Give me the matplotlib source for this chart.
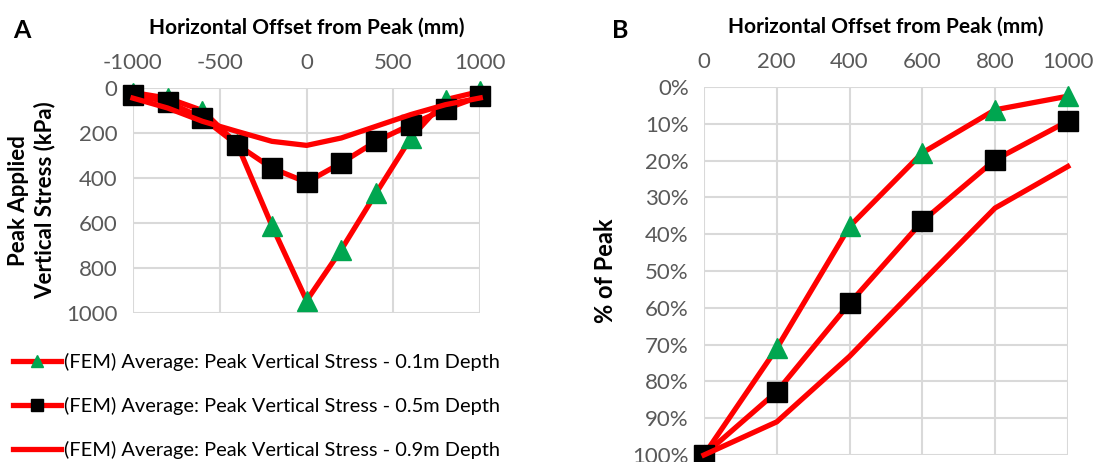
import numpy as np
import matplotlib.pyplot as plt
from matplotlib.lines import Line2D

plt.rcParams['font.family'] = ['Lato', 'DejaVu Sans']
plt.rcParams['axes.unicode_minus'] = False

# panel A: peak vertical stress (kPa) vs horizontal offset (mm)
offset_a = [-1000, -800, -600, -400, -200, 0, 200, 400, 600, 800, 1000]
stress_01 = [20, 45, 100, 250, 612, 945, 718, 467, 222, 52, 15]
stress_05 = [30, 62, 133, 252, 356, 419, 333, 237, 163, 93, 37]
stress_09 = [45, 89, 148, 193, 237, 255, 222, 170, 118, 74, 44]

# panel B: % of peak vs horizontal offset (mm)
offset_b = [0, 200, 400, 600, 800, 1000]
pct_01 = [100, 71.0, 37.9, 17.9, 6.2, 2.5]
pct_05 = [100, 82.8, 58.8, 36.5, 19.8, 9.3]
pct_09 = [100, 91.0, 73.2, 52.9, 32.9, 21.6]

labels = ['(FEM) Average: Peak Vertical Stress - 0.1m Depth',
          '(FEM) Average: Peak Vertical Stress - 0.5m Depth',
          '(FEM) Average: Peak Vertical Stress - 0.9m Depth']

RED = '#ff0000'
GREEN = '#00a650'
GRID = '#d9d9d9'
TICK = '#595959'
FS = 15

styles = [dict(marker='^', markersize=14, markerfacecolor=GREEN, markeredgecolor=GREEN),
          dict(marker='s', markersize=14, markerfacecolor='black', markeredgecolor='black'),
          dict(marker=None)]

fig = plt.figure(figsize=(10.99, 4.62), dpi=100)
ax_a = fig.add_axes([0.121, 0.3225, 0.316, 0.487])
ax_b = fig.add_axes([0.6406, 0.0152, 0.331, 0.7965])


def style_axes(ax):
    for s in ax.spines.values():
        s.set_visible(False)
    ax.grid(True, color=GRID, lw=1.5)
    ax.set_axisbelow(True)
    ax.xaxis.tick_top()
    ax.xaxis.set_label_position('top')
    ax.tick_params(length=0, labelsize=16, labelcolor=TICK, pad=11)
    ax.set_xlabel('Horizontal Offset from Peak (mm)', fontsize=FS, fontweight='bold', labelpad=14)


for i, ys in enumerate([stress_01, stress_05, stress_09]):
    ax_a.plot(offset_a, ys, color=RED, lw=3.8, zorder=3 + i, clip_on=False, **styles[i])
ax_a.set_xlim(-1000, 1000)
ax_a.set_ylim(1000, 0)
ax_a.set_xticks([-1000, -500, 0, 500, 1000])
ax_a.set_yticks(np.arange(0, 1001, 200))
style_axes(ax_a)
ax_a.set_ylabel('Peak Applied\nVertical Stress (kPa)', fontsize=16, fontweight='bold', linespacing=1.3)
ax_a.yaxis.set_label_coords(-0.222, 0.5)

for i, ys in enumerate([pct_01, pct_05, pct_09]):
    ax_b.plot(offset_b, ys, color=RED, lw=3.8, zorder=3 + i, clip_on=False, **styles[i])
ax_b.set_xlim(0, 1000)
ax_b.set_ylim(100, 0)
ax_b.set_xticks(np.arange(0, 1001, 200))
ax_b.set_yticks(np.arange(0, 101, 10))
ax_b.set_yticklabels([f'{v}%' for v in range(0, 101, 10)])
style_axes(ax_b)
ax_b.set_ylabel('% of Peak', fontsize=17, fontweight='bold')
ax_b.yaxis.set_label_coords(-0.238, 0.5)

handles = [Line2D([], [], color=RED, lw=3.8, **{k: (v if k != 'markersize' else 9) for k, v in st.items()})
           for st in styles]
fig.legend(handles, labels, loc='upper left', bbox_to_anchor=(0.005, 0.253), frameon=False,
           fontsize=14.4, handlelength=2.4, handletextpad=0.15, labelspacing=1.28, borderaxespad=0)

fig.text(0.012, 0.935, 'A', fontsize=18, fontweight='bold', va='center')
fig.text(0.557, 0.935, 'B', fontsize=18, fontweight='bold', va='center')

fig.savefig('out.png', dpi=100)
